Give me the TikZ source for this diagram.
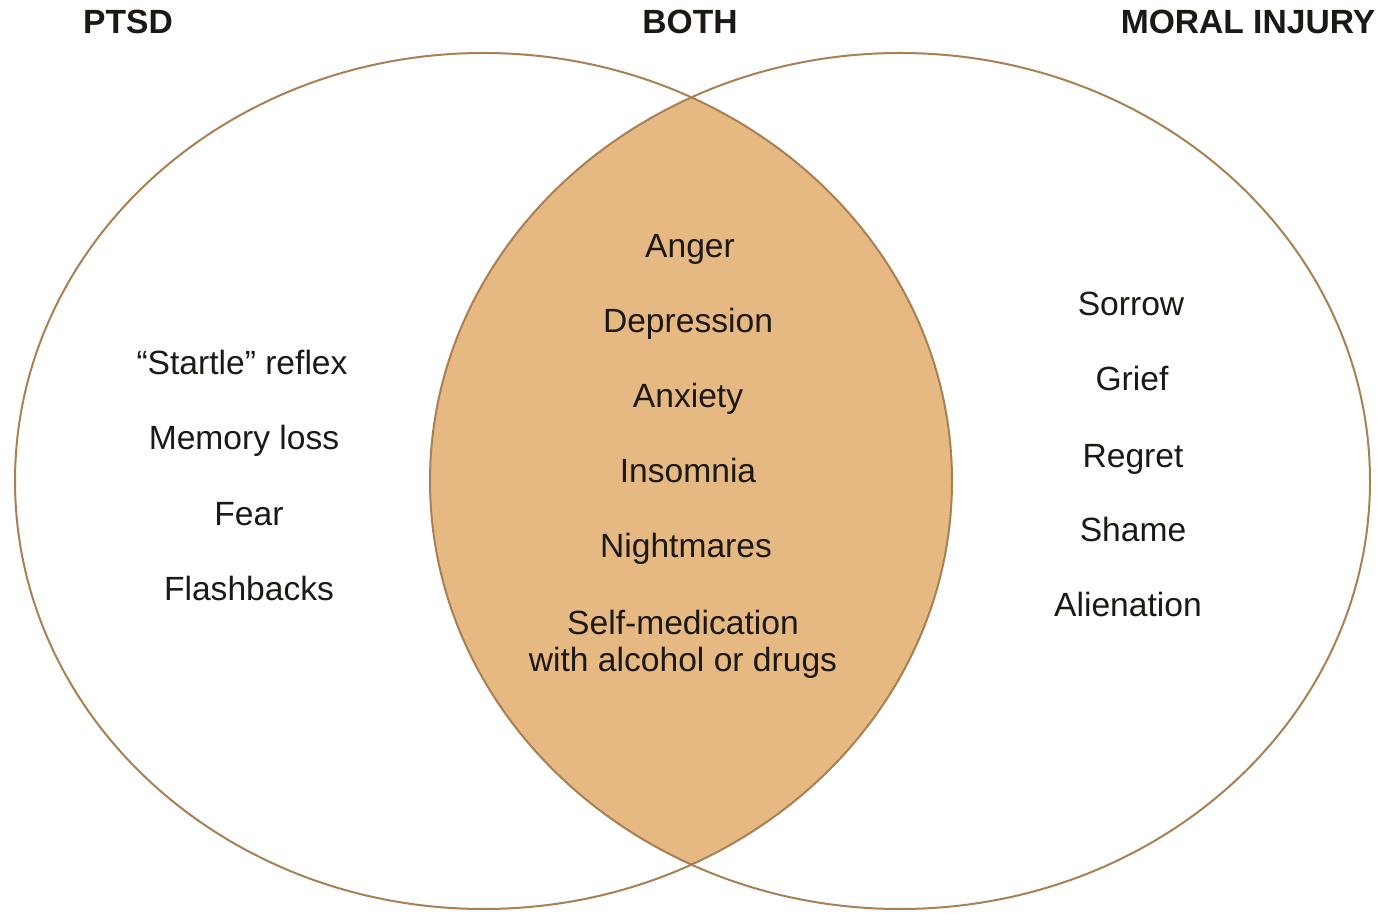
\documentclass[tikz,border=0pt]{standalone}
\usepackage{fontspec}
\setmainfont{Liberation Sans}
\definecolor{lensfill}{RGB}{230,184,130}
\definecolor{rimline}{RGB}{168,128,84}
\definecolor{inktext}{RGB}{28,24,20}
\begin{document}
\begin{tikzpicture}[x=0.5pt,y=-0.5pt,
  heading/.style={font=\fontsize{16.8}{19}\selectfont\bfseries,text=inktext,anchor=base,inner sep=0pt},
  item/.style={font=\fontsize{16.8}{18.5}\selectfont,text=inktext,anchor=base,inner sep=0pt,align=center},
  rim/.style={draw=rimline,line width=1pt}]
\useasboundingbox (0,0) rectangle (1383,914);
% lens fill
\begin{scope}
  \clip (483.5,481) ellipse [x radius=468.5, y radius=428];
  \fill[lensfill] (900,481) ellipse [x radius=470, y radius=428];
\end{scope}
\draw[rim] (483.5,481) ellipse [x radius=468.5, y radius=428];
\draw[rim] (900,481) ellipse [x radius=470, y radius=428];
% headings
\node[heading] (hptsd) at (128,34) {PTSD};
\node[heading] (hboth) at (690,34) {BOTH};
\node[heading] (hmoral) at (1248,34) {MORAL INJURY};
% both
\node[item] (anger) at (690,258) {Anger};
\node[item] (depr) at (688,333) {Depression};
\node[item] (anx) at (688,408) {Anxiety};
\node[item] (insom) at (688,483) {Insomnia};
\node[item] (night) at (686,558) {Nightmares};
\node[item] (selfmed) at (683,672) {Self-medication\\with alcohol or drugs};
% ptsd
\node[item] (startle) at (242,375) {“Startle” reflex};
\node[item] (memory) at (244,450) {Memory loss};
\node[item] (fear) at (249,526) {Fear};
\node[item] (flash) at (249,601) {Flashbacks};
% moral injury
\node[item] (sorrow) at (1131,316) {Sorrow};
\node[item] (grief) at (1132,391) {Grief};
\node[item] (regret) at (1133,468) {Regret};
\node[item] (shame) at (1133,542) {Shame};
\node[item] (alien) at (1128,617) {Alienation};
\end{tikzpicture}
\end{document}
